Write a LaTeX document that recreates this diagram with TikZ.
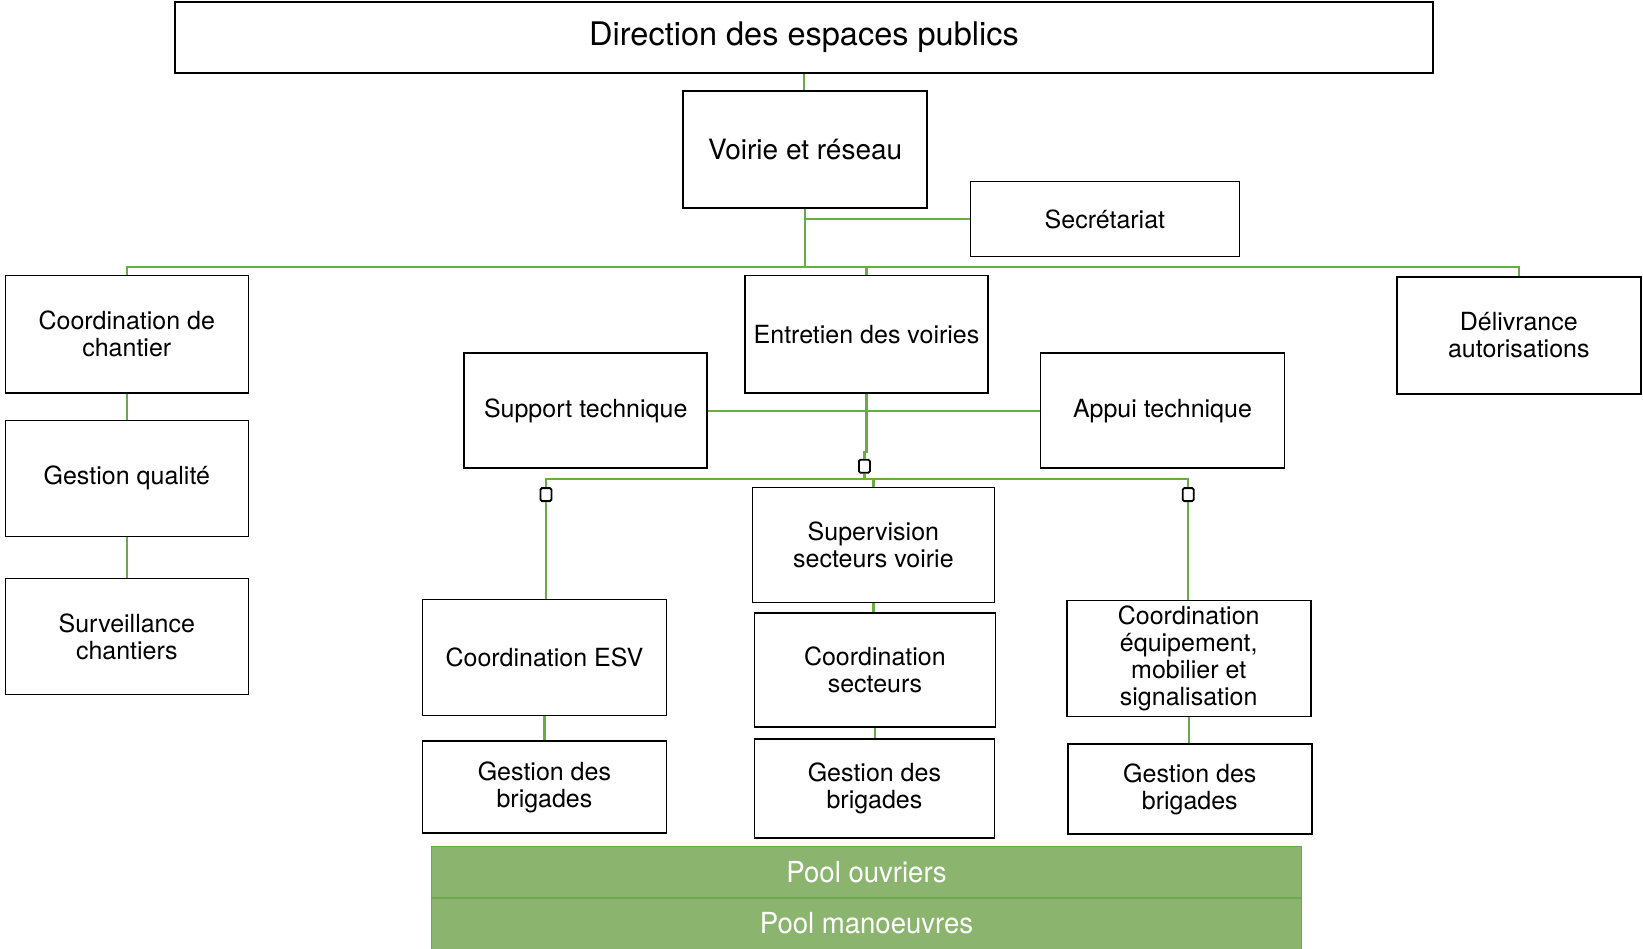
\documentclass[tikz,border=0pt]{standalone}
\usepackage{fontspec}
\setmainfont{TeX Gyre Heros}
\definecolor{lg}{HTML}{6AAB47}
\definecolor{poolg}{HTML}{8BB56F}
\definecolor{poolline}{HTML}{6EA84E}
\begin{document}
\begin{tikzpicture}[x=1pt,y=-1pt,
 box/.style={draw=black, line width=1.6pt, fill=white, inner sep=0pt, align=center, font=\fontsize{25}{27}\selectfont},
 conn/.style={draw=lg, line width=2.4pt},
 sqm/.style={draw=black, line width=1.8pt, fill=white, minimum width=11pt, minimum height=13pt, inner sep=0pt, rounded corners=1.5pt},
 pool/.style={fill=poolg, draw=poolline, line width=0.8pt, inner sep=0pt, text=white, font=\fontsize{29}{31}\selectfont}]
\useasboundingbox (0,0) rectangle (1643,949);
% nodes
\node[box, minimum width=1258pt, minimum height=71pt, font=\fontsize{32.5}{34}\selectfont] (dir) at (804,37.7) {Direction des espaces publics};
\node[box, minimum width=244pt, minimum height=117pt, font=\fontsize{28}{30}\selectfont] (voirie) at (805.2,149.8) {Voirie et réseau};
\node[box, minimum width=269pt, minimum height=75pt] (secr) at (1104.9,219) {Secrétariat};
\node[box, minimum width=243pt, minimum height=117pt] (coordch) at (126.8,334.2) {Coordination de\\chantier};
\node[box, minimum width=243pt, minimum height=116pt] (qual) at (126.8,478.3) {Gestion qualité};
\node[box, minimum width=243pt, minimum height=116pt] (surv) at (126.8,636.5) {Surveillance\\chantiers};
\node[box, minimum width=243pt, minimum height=117pt] (entr) at (866.5,334.2) {Entretien des voiries};
\node[box, minimum width=244pt, minimum height=117pt] (deliv) at (1518.8,335.3) {Délivrance\\autorisations};
\node[box, minimum width=243pt, minimum height=115pt] (supp) at (585.7,410.7) {Support technique};
\node[box, minimum width=244pt, minimum height=115pt] (appui) at (1162.5,410.7) {Appui technique};
\node[sqm] (sqc) at (864.4,466.3) {};
\node[sqm] (sql) at (545.9,494.6) {};
\node[sqm] (sqr) at (1188.2,494.6) {};
\node[box, minimum width=242pt, minimum height=115pt] (superv) at (873.4,544.9) {Supervision\\secteurs voirie};
\node[box, minimum width=241pt, minimum height=114pt] (csect) at (874.9,670.1) {Coordination\\secteurs};
\node[box, minimum width=240pt, minimum height=99.5pt] (gbm) at (874.4,788.5) {Gestion des\\brigades};
\node[box, minimum width=244pt, minimum height=116pt] (esv) at (544.4,657.5) {Coordination ESV};
\node[box, minimum width=244pt, minimum height=92pt] (gbl) at (544.4,786.9) {Gestion des\\brigades};
\node[box, minimum width=244pt, minimum height=116pt] (ceq) at (1188.7,658.5) {Coordination\\équipement,\\mobilier et\\signalisation};
\node[box, minimum width=244pt, minimum height=90pt] (gbr) at (1189.8,789) {Gestion des\\brigades};
\node[pool, minimum width=869.7pt, minimum height=50.3pt] (po) at (866.5,871.8) {\scalebox{0.95}[1]{Pool ouvriers}};
\node[pool, minimum width=869.7pt, minimum height=51pt] (pm) at (866.5,923.5) {\scalebox{0.95}[1]{Pool manoeuvres}};
% connectors
\coordinate (bus) at (805,267);
\coordinate (bus2) at (864.4,478.8);
\coordinate (j1) at (867.6,452);
\draw[conn] (dir.south) -- (dir.south |- voirie.north);
\draw[conn] (voirie.south) -- (voirie.south |- bus);
\draw[conn] (voirie.south |- secr.west) -- (secr.west);
\draw[conn] (coordch.north) |- (voirie.south |- bus) -| (deliv.north);
\draw[conn] (entr.north) -- (entr.north |- bus);
\draw[conn] (coordch.south) -- (qual.north);
\draw[conn] (qual.south) -- (surv.north);
\draw[conn] (supp.east) -- (appui.west);
\draw[conn] (entr.south) -- (entr.south |- j1) -- (sqc.north |- j1) -- (sqc.north);
\draw[conn] (sqc.south) -- (bus2);
\draw[conn] (sql.north) |- (bus2) -| (sqr.north);
\draw[conn] (superv.north) -- (superv.north |- bus2);
\draw[conn] (sql.south) -- (sql.south |- esv.north);
\draw[conn] (sqr.south) -- (sqr.south |- ceq.north);
\draw[conn] (esv.south) -- (gbl.north);
\draw[conn] (superv.south) -- (superv.south |- csect.north);
\draw[conn] (csect.south) -- (csect.south |- gbm.north);
\draw[conn] (ceq.south) -- (ceq.south |- gbr.north);
\end{tikzpicture}
\end{document}
